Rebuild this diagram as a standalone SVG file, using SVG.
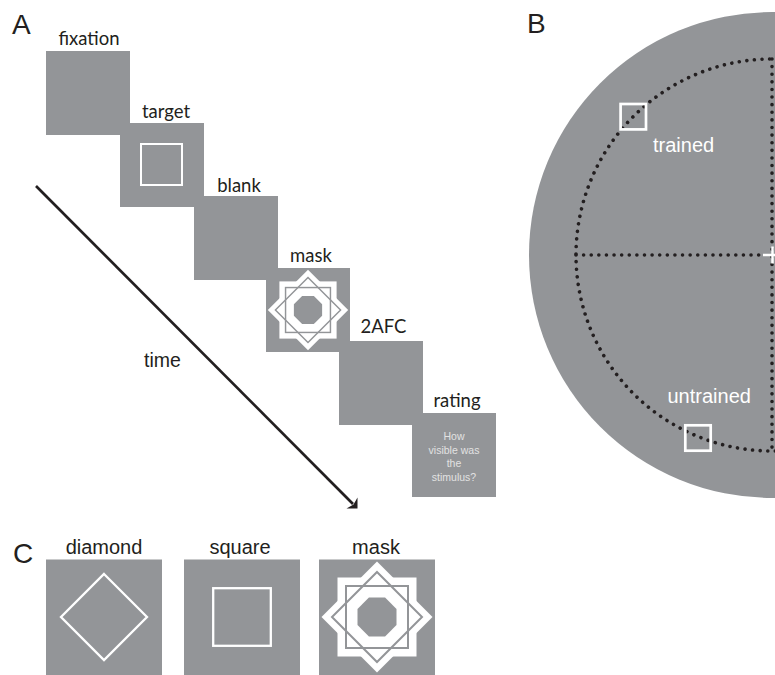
<svg xmlns="http://www.w3.org/2000/svg" width="775" height="675" viewBox="0 0 775 675">
  <style>
    .panel { fill: #939598; }
    .step { font-family: Lato, "Liberation Sans", sans-serif; font-size: 18.5px; fill: #231f20; text-anchor: middle; }
    .lab { font-family: "Liberation Sans", Arial, sans-serif; fill: #231f20; }
    .big { font-size: 28px; }
    .cap { font-size: 20px; text-anchor: middle; }
    .wtxt { font-family: "Liberation Sans", Arial, sans-serif; font-size: 20px; fill: #ffffff; }
    .q { font-family: "Liberation Sans", Arial, sans-serif; font-size: 10.5px; fill: #e2e2e2; text-anchor: middle; }
    .outline { fill: none; stroke: #ffffff; }
    .dots { fill: none; stroke: #231f20; stroke-width: 3.6; stroke-linecap: round; stroke-dasharray: 0.01 7.6; }
  </style>
  <defs>
    <!-- mask stimulus drawn around its own centre, at the panel C size -->
    <g id="mask-glyph">
      <rect x="-39.5" y="-39.5" width="79" height="79" fill="#ffffff"/>
      <polygon points="0,-55.5 55.5,0 0,55.5 -55.5,0" fill="#ffffff"/>
      <rect x="-31" y="-31" width="62" height="62" fill="none" stroke="#939598" stroke-width="2"/>
      <polygon points="0,-45 45,0 0,45 -45,0" fill="none" stroke="#939598" stroke-width="2"/>
      <polygon points="19.5,8.08 8.08,19.5 -8.08,19.5 -19.5,8.08 -19.5,-8.08 -8.08,-19.5 8.08,-19.5 19.5,-8.08" fill="#939598"/>
    </g>
  </defs>

  <!-- panel letters -->
  <text class="lab big" x="12" y="34">A</text>
  <text class="lab big" x="527" y="33">B</text>
  <text class="lab big" x="13" y="563">C</text>

  <!-- A: trial sequence -->
  <g id="fixation">
    <rect class="panel" x="46" y="51" width="84" height="84"/>
    <text class="step" x="89" y="45">fixation</text>
  </g>
  <g id="target">
    <rect class="panel" x="120" y="123" width="84" height="84"/>
    <rect class="outline" x="141" y="144" width="41" height="41" stroke-width="2"/>
    <text class="step" x="166" y="118">target</text>
  </g>
  <g id="blank">
    <rect class="panel" x="194" y="196" width="84" height="84"/>
    <text class="step" x="239" y="192">blank</text>
  </g>
  <g id="mask">
    <rect class="panel" x="266" y="268" width="84" height="84"/>
    <use href="#mask-glyph" transform="translate(308 310) scale(0.724)"/>
    <text class="step" x="311" y="262">mask</text>
  </g>
  <g id="afc">
    <rect class="panel" x="339" y="341" width="84" height="84"/>
    <text class="step" x="383.5" y="333">2AFC</text>
  </g>
  <g id="rating">
    <rect class="panel" x="412" y="413" width="84" height="84"/>
    <text class="step" x="457" y="407">rating</text>
    <text class="q" x="454" y="440">How</text>
    <text class="q" x="454" y="453.5">visible was</text>
    <text class="q" x="454" y="467">the</text>
    <text class="q" x="454" y="480.5">stimulus?</text>
  </g>

  <g id="connectors">
    <line x1="36" y1="186" x2="353" y2="504" stroke="#231f20" stroke-width="2.7"/>
    <polygon points="357.5,508.5 357.5,497.5 353.5,504.5 346.5,508.5" fill="#231f20"/>
  </g>
  <text class="lab" x="144" y="367" font-size="19.5">time</text>

  <!-- B: visual field layout -->
  <g id="field">
    <circle class="panel" cx="772" cy="255" r="243"/>
    <circle class="dots" cx="772" cy="255" r="196"/>
    <line class="dots" x1="576" y1="255" x2="764" y2="255"/>
    <line class="dots" x1="772" y1="59" x2="772" y2="451"/>
    <line x1="763" y1="255" x2="782" y2="255" stroke="#ffffff" stroke-width="2.5"/>
    <line x1="772.5" y1="246.5" x2="772.5" y2="263.5" stroke="#ffffff" stroke-width="2.5"/>
  </g>
  <g id="trained">
    <rect class="outline" x="620.6" y="104" width="25.4" height="25.4" stroke-width="2.7"/>
    <text class="wtxt" x="653" y="152">trained</text>
  </g>
  <g id="untrained">
    <rect class="outline" x="685.3" y="425.3" width="25.4" height="25.4" stroke-width="2.7"/>
    <text class="wtxt" x="667.5" y="403">untrained</text>
  </g>

  <!-- C: stimuli -->
  <g id="diamond">
    <rect class="panel" x="46" y="559.5" width="116" height="116"/>
    <polygon class="outline" points="104,574 147,617 104,660 61,617" stroke-width="2.3"/>
    <text class="lab cap" x="104" y="554">diamond</text>
  </g>
  <g id="square">
    <rect class="panel" x="184" y="559.5" width="116" height="116"/>
    <rect class="outline" x="213.2" y="588.2" width="57.6" height="57.6" stroke-width="2.3"/>
    <text class="lab cap" x="240" y="554">square</text>
  </g>
  <g id="mask-c">
    <rect class="panel" x="319" y="559.5" width="116" height="116"/>
    <use href="#mask-glyph" transform="translate(377 617)"/>
    <text class="lab cap" x="376" y="554">mask</text>
  </g>
</svg>
